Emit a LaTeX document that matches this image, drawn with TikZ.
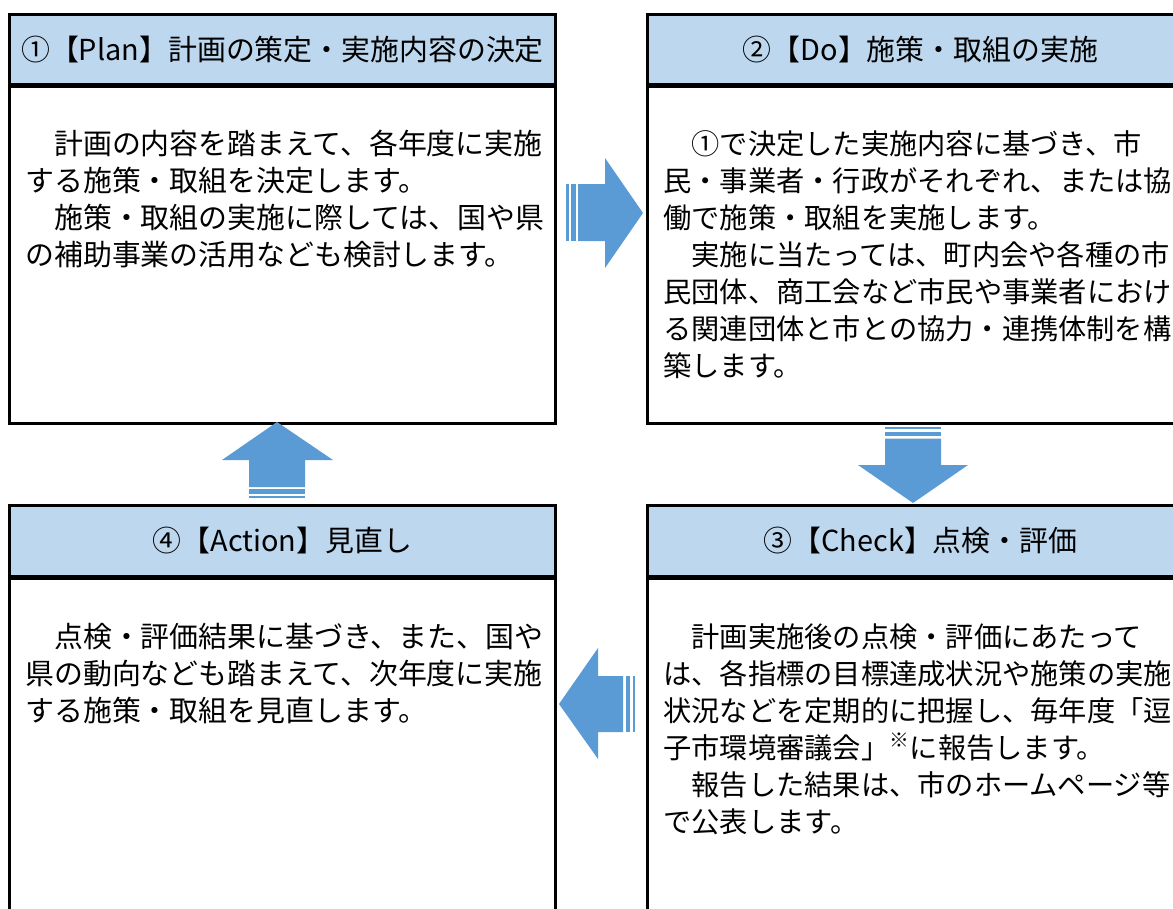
\documentclass[tikz,border=0pt]{standalone}
\usepackage{fontspec}
\usepackage{xcolor}
\usepackage{tikz}
\setmainfont{Noto Sans CJK JP}
\definecolor{headcolor}{HTML}{BDD7EE}
\definecolor{arrowcolor}{HTML}{5B9BD5}
\tikzset{
  headbox/.style={draw, line width=0.06cm, rectangle, minimum width=10.94cm, minimum height=1.42cm, fill=headcolor, inner sep=0pt, font=\fontsize{0.578cm}{0.74cm}\selectfont},
  bodybox/.style={draw, line width=0.06cm, rectangle, minimum width=10.94cm, anchor=north, fill=white},
  bodytext/.style={anchor=base west, align=left, inner sep=0pt, font=\fontsize{0.578cm}{0.74cm}\selectfont},
  righttext/.style={bodytext, font=\fontsize{0.565cm}{0.74cm}\selectfont},
  blockarrow/.style={fill=arrowcolor}
}

\begin{document}
\begin{tikzpicture}[x=0.02cm, y=-0.02cm]%
\clip (0,0) rectangle (1173,909);%
\fill[white] (0,0) rectangle (1173,909);%
% Plan (text placed by its last line)
\node[bodybox, minimum height=6.74cm] (planbody) at (282.5,85) {};%
\node[headbox] (planhead) at (282.5,49.5) {①【Plan】計画の策定・実施内容の決定};%
\node[bodytext] (plantext) at (25,265) {　計画の内容を踏まえて、各年度に実施\\する施策・取組を決定します。\\　施策・取組の実施に際しては、国や県\\の補助事業の活用なども検討します。};%
% Do
\node[bodybox, minimum height=6.74cm] (dobody) at (920.5,85) {};%
\node[headbox] (dohead) at (920.5,49.5) {②【Do】施策・取組の実施};%
\node[righttext] (dotext) at (663,376) {　①で決定した実施内容に基づき、市\\民・事業者・行政がそれぞれ、または協\\働で施策・取組を実施します。\\　実施に当たっては、町内会や各種の市\\民団体、商工会など市民や事業者におけ\\る関連団体と市との協力・連携体制を構\\築します。};%
% Check
\node[bodybox, minimum height=7.6cm] (checkbody) at (920.5,576.5) {};%
\node[headbox] (checkhead) at (920.5,541) {③【Check】点検・評価};%
\node[righttext] (checktext) at (663,832) {　計画実施後の点検・評価にあたって\\は、各指標の目標達成状況や施策の実施\\状況などを定期的に把握し、毎年度「逗\\子市環境審議会」\textsuperscript{※}に報告します。\\　報告した結果は、市のホームページ等\\で公表します。};%
% Action
\node[bodybox, minimum height=7.6cm] (actbody) at (282.5,576.5) {};%
\node[headbox] (acthead) at (282.5,541) {④【Action】見直し};%
\node[bodytext] (acttext) at (25,721) {　点検・評価結果に基づき、また、国や\\県の動向なども踏まえて、次年度に実施\\する施策・取組を見直します。};%
% arrows
\fill[blockarrow] (578,184) -- (605,184) -- (605,158) -- (643,213) -- (605,268) -- (605,241) -- (578,241) -- cycle;%
\fill[blockarrow] (570.7,184) rectangle (575.7,241);%
\fill[blockarrow] (566,184) rectangle (568.7,241);%
\fill[blockarrow] (885,438.7) -- (941,438.7) -- (941,465) -- (968,465) -- (913,503) -- (858,465) -- (885,465) -- cycle;%
\fill[blockarrow] (885,432) rectangle (941,436);%
\fill[blockarrow] (885,427) rectangle (941,429);%
\fill[blockarrow] (623,676) -- (598,676) -- (598,648) -- (559,704) -- (598,759) -- (598,732) -- (623,732) -- cycle;%
\fill[blockarrow] (626,676) rectangle (630,732);%
\fill[blockarrow] (633,676) rectangle (635,732);%
\fill[blockarrow] (249,487) -- (249,460) -- (222,460) -- (277,422) -- (333,460) -- (305,460) -- (305,487) -- cycle;%
\fill[blockarrow] (249,489) rectangle (305,494);%
\fill[blockarrow] (249,496) rectangle (305,498);%
\end{tikzpicture}
\end{document}
